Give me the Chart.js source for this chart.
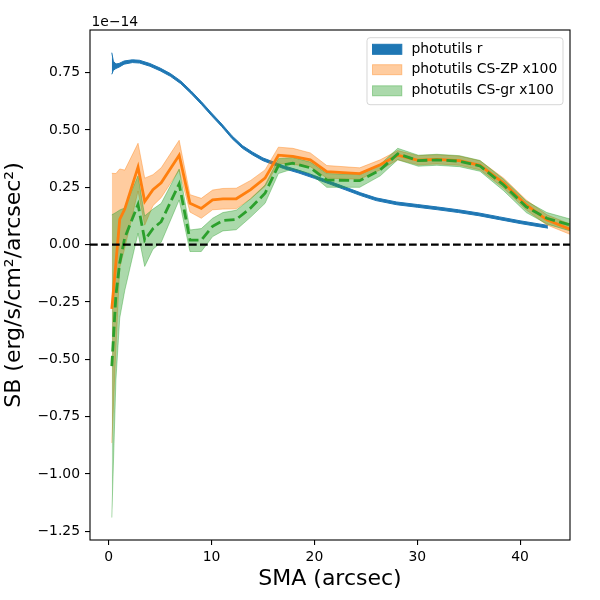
<!DOCTYPE html>
<html>
<head>
<meta charset="utf-8">
<script src="https://cdn.jsdelivr.net/npm/chart.js@4.4.1/dist/chart.umd.min.js"></script>
<style>
  html, body { margin: 0; padding: 0; background: #fff; }
  #wrap { width: 600px; height: 600px; }
</style>
</head>
<body>
<div id="wrap"><canvas id="sbChart" width="600" height="600"></canvas></div>
<script>
// 表面亮度剖面，单位 1e-14
var rX  = [0.3, 0.45, 0.7, 1.0, 1.5, 2.3, 3.0, 4.0, 5.0, 6.0, 7.0, 8.0, 9.0, 10.0, 11.0, 12.0, 13.0, 14.0, 15.0, 16.0, 17.0, 18.5, 20.0, 21.5, 23.0, 24.5, 26.0, 28.0, 30.0, 32.0, 34.0, 36.0, 38.0, 40.0, 42.7];
var rLo = [0.743, 0.760, 0.768, 0.774, 0.787, 0.794, 0.792, 0.778, 0.758, 0.734, 0.702, 0.659, 0.612, 0.562, 0.514, 0.462, 0.420, 0.391, 0.366, 0.349, 0.332, 0.312, 0.289, 0.264, 0.239, 0.214, 0.192, 0.174, 0.163, 0.152, 0.140, 0.126, 0.109, 0.092, 0.072];
var rHi = [0.837, 0.800, 0.788, 0.790, 0.801, 0.806, 0.804, 0.790, 0.770, 0.746, 0.714, 0.671, 0.624, 0.574, 0.526, 0.474, 0.432, 0.403, 0.378, 0.361, 0.344, 0.324, 0.301, 0.276, 0.251, 0.226, 0.204, 0.186, 0.175, 0.164, 0.152, 0.138, 0.121, 0.104, 0.084];

var csX    = [0.3, 0.7, 1.07, 1.56, 2.85, 3.5, 4.3, 5.1, 6.85, 7.9, 9.0, 10.1, 11.1, 12.4, 13.8, 15.2, 16.5, 17.9, 19.6, 21.2, 24.4, 26.4, 28.1, 30.1, 31.9, 34.1, 36.1, 38.4, 40.6, 42.6, 44.85];
var zpLine = [-0.28, -0.08, 0.11, 0.155, 0.338, 0.188, 0.24, 0.27, 0.39, 0.18, 0.158, 0.195, 0.2, 0.2, 0.24, 0.29, 0.39, 0.385, 0.37, 0.318, 0.31, 0.348, 0.39, 0.368, 0.372, 0.366, 0.346, 0.268, 0.173, 0.108, 0.067];
var zpLo   = [-0.865, -0.45, -0.1, -0.015, 0.234, 0.085, 0.17, 0.205, 0.325, 0.142, 0.115, 0.152, 0.155, 0.156, 0.2, 0.254, 0.355, 0.35, 0.34, 0.29, 0.285, 0.326, 0.37, 0.348, 0.352, 0.346, 0.326, 0.246, 0.151, 0.086, 0.045];
var zpHi   = [0.311, 0.31, 0.33, 0.325, 0.442, 0.29, 0.305, 0.335, 0.455, 0.218, 0.202, 0.238, 0.245, 0.246, 0.28, 0.326, 0.425, 0.42, 0.4, 0.345, 0.335, 0.37, 0.41, 0.388, 0.392, 0.386, 0.366, 0.29, 0.195, 0.13, 0.09];
var grLine = [-0.53, -0.22, -0.08, 0.03, 0.175, 0.02, 0.07, 0.1, 0.265, 0.02, 0.02, 0.08, 0.105, 0.11, 0.16, 0.224, 0.345, 0.355, 0.335, 0.282, 0.279, 0.326, 0.396, 0.366, 0.37, 0.364, 0.343, 0.26, 0.165, 0.115, 0.086];
var grLo   = [-1.19, -0.59, -0.32, -0.2, 0.05, -0.095, -0.02, 0.01, 0.195, -0.03, -0.03, 0.035, 0.06, 0.065, 0.12, 0.18, 0.31, 0.33, 0.31, 0.25, 0.25, 0.3, 0.37, 0.342, 0.346, 0.34, 0.32, 0.235, 0.14, 0.09, 0.06];
var grHi   = [0.13, 0.14, 0.151, 0.16, 0.3, 0.125, 0.155, 0.18, 0.33, 0.064, 0.07, 0.115, 0.14, 0.15, 0.2, 0.26, 0.375, 0.38, 0.36, 0.31, 0.305, 0.35, 0.42, 0.39, 0.394, 0.388, 0.367, 0.285, 0.19, 0.14, 0.112];

var xTicks = [0, 10, 20, 30, 40];
var xTickLabels = ['0', '10', '20', '30', '40'];
var yTicks = [-1.25, -1.0, -0.75, -0.5, -0.25, 0, 0.25, 0.5, 0.75];
var yTickLabels = ['\u22121.25', '\u22121.00', '\u22120.75', '\u22120.50', '\u22120.25', '0.00', '0.25', '0.50', '0.75'];
var legendLabels = ['photutils r', 'photutils CS-ZP x100', 'photutils CS-gr x100'];
var xMin = -1.82, xMax = 44.85, yMin = -1.288, yMax = 0.936;

var C0 = '#1f77b4', C1 = '#ff7f0e', C2 = '#2ca02c';
var C1a = 'rgba(255,127,14,0.4)', C2a = 'rgba(44,160,44,0.4)';
var FONT = 'DejaVu Sans';

function pts(xs, ys) {
    return xs.map(function (x, i) { return { x: x, y: ys[i] }; });
}

function band(data, color, order, fill) {
    return {
        data: data, borderColor: color, backgroundColor: color,
        borderWidth: 1, pointRadius: 0, tension: 0, fill: fill, order: order
    };
}

// 坐标框、偏移文字和图例
var decor = {
    id: 'decor',
    afterDraw: function (chart) {
        var ctx = chart.ctx, a = chart.chartArea;
        ctx.save();
        ctx.strokeStyle = '#000';
        ctx.lineWidth = 1.1;
        ctx.strokeRect(a.left, a.top, a.right - a.left, a.bottom - a.top);

        ctx.fillStyle = '#000';
        ctx.font = '13.9px "' + FONT + '"';
        ctx.textAlign = 'left';
        ctx.textBaseline = 'alphabetic';
        ctx.fillText('1e\u221214', a.left + 1.5, a.top - 4);

        //图例
        var w = 196, h = 67;
        var x0 = a.right - 7 - w, y0 = a.top + 7.7;
        ctx.beginPath();
        ctx.roundRect(x0, y0, w, h, 3);
        ctx.fillStyle = 'rgba(255,255,255,0.8)';
        ctx.fill();
        ctx.strokeStyle = 'rgba(204,204,204,0.8)';
        ctx.lineWidth = 1;
        ctx.stroke();

        var faces = [C0, C1a, C2a];
        var rows = [11.6, 32, 53.1];
        for (var i = 0; i < 3; i++) {
            var cy = y0 + rows[i];
            ctx.fillStyle = faces[i];
            ctx.fillRect(x0 + 5.5, cy - 5, 29.3, 10);
            ctx.strokeStyle = faces[i];
            ctx.lineWidth = 1;
            ctx.strokeRect(x0 + 5.5, cy - 5, 29.3, 10);
            ctx.fillStyle = '#000';
            ctx.textBaseline = 'middle';
            ctx.fillText(legendLabels[i], x0 + 44.5, cy);
        }
        ctx.restore();
    }
};

var datasets = [
    band(pts(rX, rLo), C0, 5, false),
    band(pts(rX, rHi), C0, 5, '-1'),
    band(pts(csX, zpLo), C1a, 4, false),
    band(pts(csX, zpHi), C1a, 4, '-1'),
    band(pts(csX, grLo), C2a, 3, false),
    band(pts(csX, grHi), C2a, 3, '-1'),
    {
        data: pts(csX, zpLine), borderColor: C1, borderWidth: 2.8,
        pointRadius: 0, tension: 0, fill: false, order: 2
    },
    {
        data: pts(csX, grLine), borderColor: C2, borderWidth: 2.8, borderDash: [10.3, 4.4],
        pointRadius: 0, tension: 0, fill: false, order: 1
    },
    {
        data: [{ x: xMin, y: 0 }, { x: xMax, y: 0 }], borderColor: '#000', borderWidth: 2.1,
        borderDash: [7.7, 3.3], pointRadius: 0, fill: false, order: 0
    }
];

Chart.defaults.font.family = FONT;
Chart.defaults.font.size = 13.9;
Chart.defaults.color = '#000';

var tickGrid = { display: true, drawOnChartArea: false, drawTicks: true, tickLength: 5, color: '#000', lineWidth: 1.1 };

new Chart(document.getElementById('sbChart'), {
    type: 'line',
    data: { datasets: datasets },
    options: {
        responsive: false,
        animation: false,
        layout: { padding: { top: 30, right: 30, left: 0, bottom: 0 } },
        plugins: { legend: { display: false }, tooltip: { enabled: false } },
        scales: {
            x: {
                type: 'linear', min: xMin, max: xMax,
                grid: tickGrid, border: { display: false },
                afterBuildTicks: function (s) { s.ticks = xTicks.map(function (v) { return { value: v }; }); },
                afterFit: function (s) { s.height = 60; },
                ticks: { padding: 4, maxRotation: 0, callback: function (v, i) { return xTickLabels[i]; } },
                title: { display: true, text: 'SMA (arcsec)', font: { size: 22 }, padding: { top: 0, bottom: 8 } }
            },
            y: {
                type: 'linear', min: yMin, max: yMax,
                grid: tickGrid, border: { display: false },
                afterBuildTicks: function (s) { s.ticks = yTicks.map(function (v) { return { value: v }; }); },
                afterFit: function (s) { s.width = 90; },
                ticks: { padding: 5, callback: function (v, i) { return yTickLabels[i]; } },
                title: { display: true, text: 'SB (erg/s/cm\u00b2/arcsec\u00b2)', font: { size: 22 }, padding: { top: 1, bottom: 0 } }
            }
        }
    },
    plugins: [decor]
});
</script>
</body>
</html>
